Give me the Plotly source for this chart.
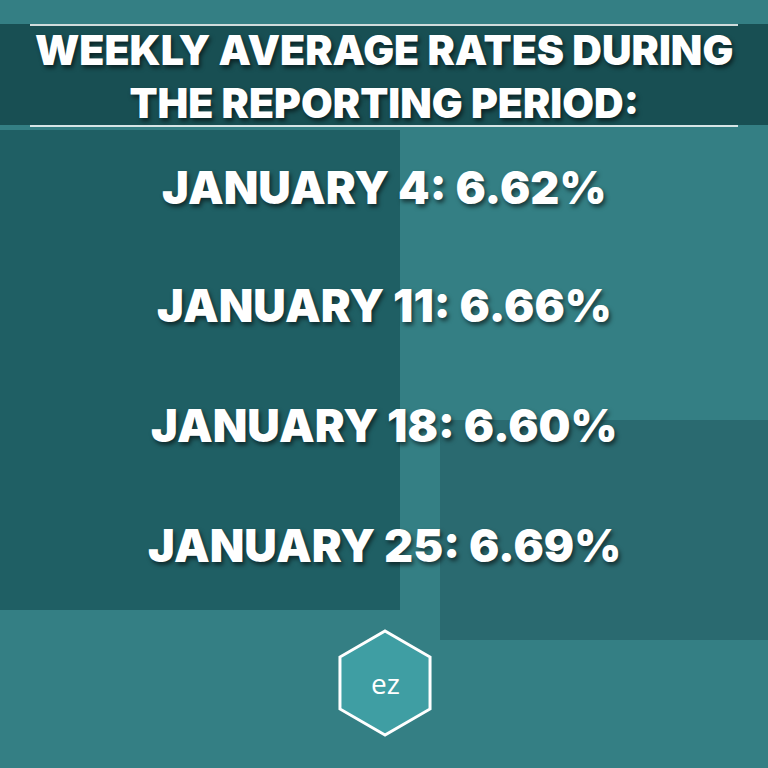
import math
import plotly.graph_objects as go

# Data
title_lines = ["WEEKLY AVERAGE RATES DURING", "THE REPORTING PERIOD:"]
dates = ["JANUARY 4", "JANUARY 11", "JANUARY 18", "JANUARY 25"]
rates = [6.62, 6.66, 6.60, 6.69]
row_y_px = [188, 305, 425, 545]

W = H = 768


def py(px):
    return 1 - px / H


fig = go.Figure()

shadow = "2px 3px 4px rgba(0,0,0,0.55)"

shapes = [
    # background photo stand-ins
    dict(type="rect", xref="paper", yref="paper", x0=0, x1=1, y0=0, y1=1,
         fillcolor="#347f84", line_width=0, layer="below"),
    dict(type="rect", xref="paper", yref="paper", x0=0, x1=400 / W, y0=py(610), y1=py(130),
         fillcolor="#1f5f64", line_width=0, layer="below"),
    dict(type="rect", xref="paper", yref="paper", x0=440 / W, x1=1, y0=py(640), y1=py(420),
         fillcolor="#2a6a70", line_width=0, layer="below"),
    # title band
    dict(type="rect", xref="paper", yref="paper", x0=0, x1=1, y0=py(125), y1=py(24),
         fillcolor="rgba(20,70,74,0.85)", line_width=0),
    dict(type="line", xref="paper", yref="paper", x0=30 / W, x1=738 / W, y0=py(25), y1=py(25),
         line=dict(color="rgba(255,255,255,0.8)", width=2)),
    dict(type="line", xref="paper", yref="paper", x0=30 / W, x1=738 / W, y0=py(126), y1=py(126),
         line=dict(color="rgba(255,255,255,0.8)", width=2)),
]

# hexagon logo
cx, cy, r = 385, 683, 52
pts = [(cx + r * math.cos(math.radians(90 + 60 * k)), cy + r * math.sin(math.radians(90 + 60 * k))) for k in range(6)]
path = "M " + " L ".join(f"{x / W},{py(y)}" for x, y in pts) + " Z"
shapes.append(dict(type="path", xref="paper", yref="paper", path=path,
                   fillcolor="#3f9ea3", line=dict(color="white", width=3)))
fig.update_layout(shapes=shapes)

annotations = [dict(text="<br>".join(title_lines), x=0.5, y=py(77), xref="paper", yref="paper",
                    yanchor="middle", showarrow=False,
                    font=dict(family="Inter", size=41, color="white", weight=900, shadow=shadow))]
for d, r_, y in zip(dates, rates, row_y_px):
    annotations.append(dict(text=f"{d}: {r_:.2f}%", x=0.5, y=py(y), xref="paper", yref="paper",
                            yanchor="middle", showarrow=False,
                            font=dict(family="Inter", size=45, color="white",
                                      weight=900, shadow=shadow)))
annotations.append(dict(text="ez", x=cx / W, y=py(cy), xref="paper", yref="paper", showarrow=False,
                        yanchor="middle", font=dict(family="Open Sans", size=28, color="white")))

fig.update_layout(annotations=annotations, width=W, height=H,
                  margin=dict(l=0, r=0, t=0, b=0),
                  paper_bgcolor="#347f84", plot_bgcolor="#347f84",
                  xaxis=dict(visible=False), yaxis=dict(visible=False))

fig.write_html("out.html", config={"displayModeBar": False},
               post_script="document.body.style.margin='0';")
